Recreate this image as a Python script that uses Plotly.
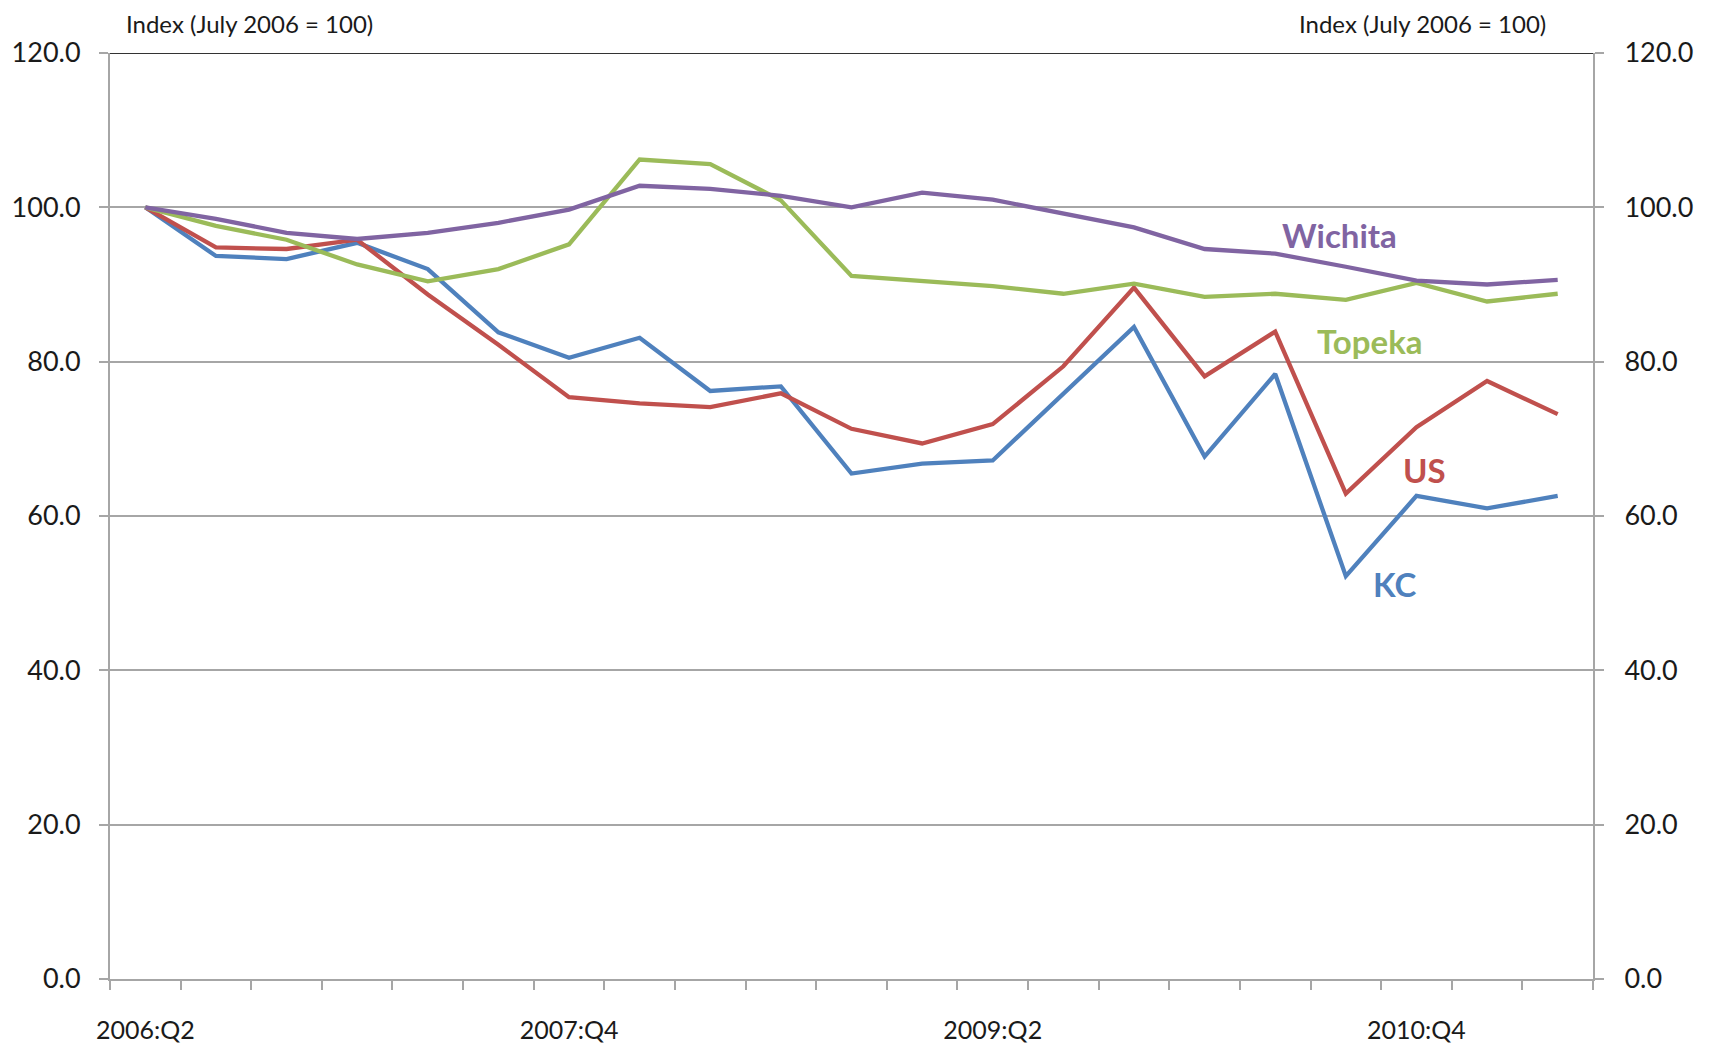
import plotly.graph_objects as go

quarters = ["2006:Q2", "2006:Q3", "2006:Q4", "2007:Q1", "2007:Q2", "2007:Q3", "2007:Q4",
            "2008:Q1", "2008:Q2", "2008:Q3", "2008:Q4", "2009:Q1", "2009:Q2", "2009:Q3",
            "2009:Q4", "2010:Q1", "2010:Q2", "2010:Q3", "2010:Q4", "2011:Q1", "2011:Q2"]
shown_labels = ["2006:Q2", "2007:Q4", "2009:Q2", "2010:Q4"]

kc = [100.0, 93.7, 93.3, 95.4, 92.0, 83.8, 80.5, 83.1, 76.2, 76.8, 65.5, 66.8, 67.2,
      75.8, 84.5, 67.7, 78.4, 52.2, 62.6, 61.0, 62.6]
us = [100.0, 94.8, 94.6, 95.8, 88.7, 82.2, 75.4, 74.6, 74.1, 75.9, 71.3, 69.4, 71.9,
      79.4, 89.6, 78.1, 83.9, 62.9, 71.5, 77.5, 73.2]
topeka = [100.0, 97.6, 95.8, 92.6, 90.4, 92.0, 95.2, 106.2, 105.6, 100.9, 91.1, 90.4, 89.8,
          88.8, 90.1, 88.4, 88.8, 88.0, 90.2, 87.8, 88.8]
wichita = [100.0, 98.5, 96.7, 95.9, 96.7, 98.0, 99.7, 102.8, 102.4, 101.5, 100.0, 101.9, 101.0,
           99.2, 97.4, 94.6, 94.0, 92.3, 90.5, 90.0, 90.6]

y_ticks = [0, 20, 40, 60, 80, 100, 120]
y_ticktext = ["0.0", "20.0", "40.0", "60.0", "80.0", "100.0", "120.0"]
axis_title = "Index (July 2006 = 100)"

series = [
    ("KC", kc, "#4F81BD"),
    ("US", us, "#C0504D"),
    ("Topeka", topeka, "#9BBB59"),
    ("Wichita", wichita, "#8064A2"),
]

FONT = "Lato, 'Open Sans', sans-serif"
TXT = "#1a1a1a"
GRID = "#a6a6a6"

fig = go.Figure()
for name, vals, col in series:
    fig.add_trace(go.Scatter(x=quarters, y=vals, mode="lines", name=name,
                             line=dict(color=col, width=4.3), showlegend=False))
# invisible trace to activate the right-hand axis
fig.add_trace(go.Scatter(x=quarters, y=us, yaxis="y2", mode="lines",
                         line=dict(width=0), opacity=0, showlegend=False, hoverinfo="skip"))

ticktext_x = [q if q in shown_labels else "" for q in quarters]

fig.update_layout(
    width=1717, height=1045,
    paper_bgcolor="white", plot_bgcolor="white",
    margin=dict(l=102, r=132, t=45, b=74, autoexpand=False),
    font=dict(family=FONT, color=TXT, size=24),
    xaxis=dict(type="category", tickmode="array", tickvals=quarters, ticktext=ticktext_x,
               tickson="boundaries", ticks="outside", ticklen=9, tickcolor=GRID, tickwidth=2,
               tickangle=0, automargin=False,
               showline=True, linecolor=GRID, linewidth=2, showgrid=False,
               tickfont=dict(size=25, color=TXT), ticklabelstandoff=28,
               range=[-0.5, len(quarters) - 0.5], zeroline=False),
    yaxis=dict(range=[0, 120], tickmode="array", tickvals=y_ticks, ticktext=y_ticktext,
               ticks="outside", ticklen=9, tickcolor=GRID, tickwidth=2, automargin=False,
               showline=True, linecolor=GRID, linewidth=2,
               showgrid=True, gridcolor=GRID, gridwidth=1.5, zeroline=False,
               tickfont=dict(size=27, color=TXT), ticklabelstandoff=13),
    yaxis2=dict(range=[0, 120], overlaying="y", side="right", tickmode="array",
                tickvals=y_ticks, ticktext=y_ticktext, automargin=False,
                ticks="outside", ticklen=9, tickcolor=GRID, tickwidth=2,
                showline=True, linecolor=GRID, linewidth=2, showgrid=False, zeroline=False,
                tickfont=dict(size=27, color=TXT), ticklabelstandoff=15),
)

# dark top border at the top of the value range
fig.add_shape(type="line", xref="paper", x0=0, x1=1, yref="y", y0=120, y1=120,
              line=dict(color="#333333", width=2))

# axis titles above plot
fig.add_annotation(text=axis_title, xref="paper", yref="paper", x=0.01, y=1.0,
                   yshift=30, xanchor="left", yanchor="middle", showarrow=False,
                   borderpad=0, font=dict(size=24, color=TXT))
fig.add_annotation(text=axis_title, xref="paper", yref="paper", x=0.969, y=1.0,
                   yshift=30, xanchor="right", yanchor="middle", showarrow=False,
                   borderpad=0, font=dict(size=24, color=TXT))

# series labels
labels = [
    ("Wichita", "2010:Q3", 96.4, "#8064A2"),
    ("Topeka", "2010:Q3", 82.7, "#9BBB59"),
    ("US", "2010:Q4", 65.9, "#C0504D"),
    ("KC", "2010:Q4", 51.2, "#4F81BD"),
]
label_xshift = {"Wichita": -6, "Topeka": 24, "US": 8, "KC": -22}
for txt, xq, yv, col in labels:
    fig.add_annotation(text="<b>%s</b>" % txt, x=xq, y=yv, xref="x", yref="y",
                       xshift=label_xshift[txt], showarrow=False,
                       font=dict(size=33, color=col))

fig.write_html("out.html")
